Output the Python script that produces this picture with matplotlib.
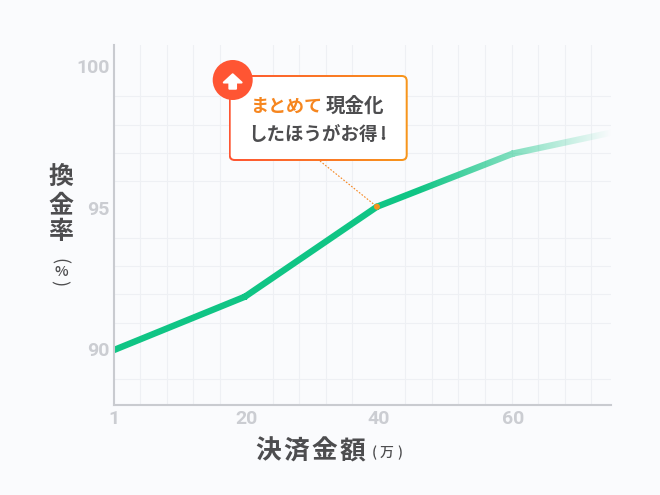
import matplotlib
matplotlib.use("Agg")
import matplotlib.pyplot as plt
from matplotlib.colors import LinearSegmentedColormap, to_rgb
from matplotlib.patches import Circle, FancyBboxPatch, Polygon
from matplotlib.path import Path
from matplotlib.transforms import IdentityTransform
import numpy as np

# x=0 is the "1" tick on this chart
amount = [0, 19.8, 39.7, 60.2, 75]
rate = [90.03, 91.92, 95.1, 96.98, 97.72]
x_ticks = [0, 20, 40, 60.2]
x_labels = ["1", "20", "40", "60"]
y_ticks = [90, 95, 100]
y_labels = ["90", "95", "100"]
marked_amount = 39.7
marked_rate = 95.1

bg = "#fafbfd"
grid_col = "#eef0f4"
axis_col = "#c9cbd0"
tick_col = "#cbcdd2"
dark = "#4d4d4f"
green = "#10c585"
orange = "#f6861f"
red = "#ff5533"
jp = ["Noto Sans CJK JP", "DejaVu Sans"]
W, H = 660, 495

fig = plt.figure(figsize=(W / 100, H / 100), dpi=100, facecolor=bg)
ax = fig.add_axes([113.7 / W, 1 - 404.7 / H, (611 - 113.7) / W, (404.7 - 45) / H], facecolor=bg)
ax.set_xlim(0, 75)
ax.set_ylim(88.1, 100.82)

ax.set_xticks(np.arange(0, 75, 4), minor=True)
ax.set_yticks(np.arange(89, 101), minor=True)
ax.grid(which="minor", color=grid_col, linewidth=0.8, zorder=0)
ax.tick_params(which="both", length=0)
ax.set_xticks(x_ticks)
ax.set_xticklabels(x_labels)
ax.set_yticks(y_ticks)
ax.set_yticklabels(y_labels)
ax.set_axisbelow(True)
for lab in ax.get_xticklabels():
    lab.set(family="Roboto", weight="bold", size=14, color=tick_col)
for lab in ax.get_yticklabels():
    lab.set(family="Roboto", weight="bold", size=14, color=tick_col, va="center")
ax.tick_params(axis="x", pad=4)
ax.tick_params(axis="y", pad=3)
for s in ["top", "right"]:
    ax.spines[s].set_visible(False)
for s in ["left", "bottom"]:
    ax.spines[s].set_color(axis_col)
    ax.spines[s].set_linewidth(1.5)

# line stroke as polygons, so the gradient image can be clipped to it
pts = ax.transData.transform(np.column_stack([amount, rate]))
half = 3.2
verts, codes = [], []
for a, b in zip(pts[:-1], pts[1:]):
    d = (b - a) / np.hypot(*(b - a))
    n = np.array([-d[1], d[0]]) * half
    a2, b2 = a - d * 1.2, b + d * 1.2
    verts += [a2 + n, b2 + n, b2 - n, a2 - n, a2 + n]
    codes += [Path.MOVETO, Path.LINETO, Path.LINETO, Path.LINETO, Path.CLOSEPOLY]
stroke = Path(verts, codes)

g = np.array(to_rgb(green))
fade = np.clip((75 - np.linspace(0, 75, 400)) / (75 - 46), 0, 1)
rgba = np.zeros((1, 400, 4))
rgba[0, :, :3] = g
rgba[0, :, 3] = fade
im = ax.imshow(rgba, extent=[0, 75, 88.1, 100.82], aspect="auto", zorder=2, interpolation="bilinear")
im.set_clip_path(stroke, IdentityTransform())
ax.set_xlim(0, 75)
ax.set_ylim(88.1, 100.82)

# pixel space layer for the callout and the stacked axis titles
ov = fig.add_axes([0, 0, 1, 1])
ov.set_xlim(0, W)
ov.set_ylim(H, 0)
ov.axis("off")
ov.patch.set_alpha(0)

mx, my = ax.transData.transform((marked_amount, marked_rate))
my = H - my
ov.plot([320, mx], [161, my], color=orange, lw=0.8, ls=(0, (1.5, 1.5)), zorder=2)
ov.add_patch(Circle((mx, my), 3, color="#f6941d", lw=0, zorder=3))

bx0, by0, bx1, by1 = 228.7, 75, 407.7, 161
cm = LinearSegmentedColormap.from_list("edge", [red, "#f7961c"])
edge = ov.imshow(np.linspace(0, 1, 200).reshape(1, -1), cmap=cm, aspect="auto",
                 extent=[bx0, bx1, by1, by0], zorder=4)
outer = FancyBboxPatch((bx0, by0), bx1 - bx0, by1 - by0,
                       boxstyle="round,pad=0,rounding_size=6", fc="none", ec="none")
ov.add_patch(outer)
edge.set_clip_path(outer)
ins = 2
ov.add_patch(FancyBboxPatch((bx0 + ins, by0 + ins), bx1 - bx0 - 2 * ins, by1 - by0 - 2 * ins,
                            boxstyle="round,pad=0,rounding_size=4", fc="white", ec="none", zorder=5))
ov.set_xlim(0, W)
ov.set_ylim(H, 0)

ov.add_patch(Circle((232.7, 80), 20, color=red, lw=0, zorder=6))
ov.add_patch(Polygon([(232.7, 74.3), (241.6, 82.5), (236, 82.5), (236, 88.7), (229.4, 88.7), (229.4, 82.5), (223.8, 82.5)],
                     closed=True, fc="white", ec="white", lw=1.5, joinstyle="round", zorder=7))

txt = dict(family=jp, weight="bold", va="center", zorder=8)
ov.text(250.5, 106, "まとめて", color=orange, ha="left", size=13, **txt)
ov.text(384.5, 106, "現金化", color=dark, ha="right", size=14, **txt)
ov.text(248, 134, "したほうがお得", color=dark, ha="left", size=13.3, **txt)
ov.text(383, 134, "!", color=dark, ha="center", size=13.8, **txt)

# axis titles
for ch, y in zip("換金率", [177, 205, 232]):
    ov.text(61, y, ch, family=jp, weight="bold", size=18, color=dark, ha="center", va="center")
ov.text(59, 261, "(", family=jp, size=13, color=dark, rotation=-90, ha="center", va="center")
ov.text(61, 272, "%", family=jp, weight="medium", size=10.5, color=dark, ha="center", va="center")
ov.text(59, 283, ")", family=jp, size=13, color=dark, rotation=-90, ha="center", va="center")
for ch, x in zip("決済金額", [268, 296, 324, 352]):
    ov.text(x, 451, ch, family=jp, weight="bold", size=18.5, color=dark, ha="center", va="center")
for ch, x in zip("(万)", [374, 387, 400]):
    ov.text(x, 453, ch, family=jp, weight="medium", size=10, color=dark, ha="center", va="center")

fig.savefig("out.png", dpi=100, facecolor=bg)
